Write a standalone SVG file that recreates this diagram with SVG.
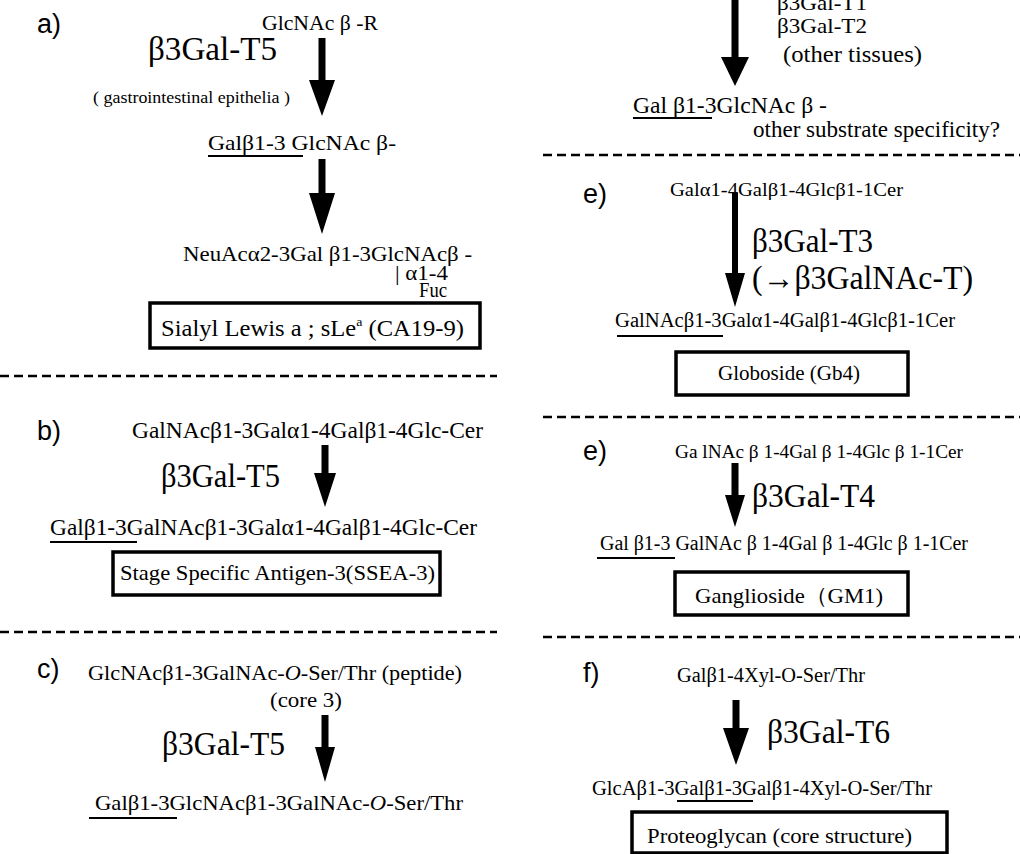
<svg xmlns="http://www.w3.org/2000/svg" width="1020" height="854" viewBox="0 0 1020 854">
<style>
.s{font-family:"Liberation Serif","Times New Roman",serif;fill:#000}
.lab{font-family:"Liberation Sans",Arial,sans-serif;font-size:27px;fill:#000}
.big{font-size:33px}
.box{fill:none;stroke:#000;stroke-width:3.5}
.ul{stroke:#000;stroke-width:2}
.dash{stroke:#000;stroke-width:2.5;stroke-dasharray:9 5}
.arr{fill:#000}
</style>
<rect width="1020" height="854" fill="#fff"/>
<g id="dividers">
<line class="dash" x1="0" y1="376" x2="497" y2="376"/>
<line class="dash" x1="0" y1="632" x2="497" y2="632"/>
<line class="dash" x1="543" y1="155" x2="1020" y2="155"/>
<line class="dash" x1="543" y1="417" x2="1020" y2="417"/>
<line class="dash" x1="543" y1="637" x2="1020" y2="637"/>
</g>
<g id="connectors">
<path class="arr" d="M318.5 38H325.5V80H335L322 116L309 80H318.5Z"/>
<path class="arr" d="M318.5 159H325.5V193H335L322 234L309 193H318.5Z"/>
<path class="arr" d="M321.5 445H328.5V473H336L325 507L314 473H321.5Z"/>
<path class="arr" d="M321.5 715H328.5V747H335L325 782L315 747H321.5Z"/>
<path class="arr" d="M731.5 0H738.5V57H749L735 86L721 57H731.5Z"/>
<path class="arr" d="M732 193H738V273H745L735 307L725 273H732Z"/>
<path class="arr" d="M731.5 463H738.5V495H745L735 527L725 495H731.5Z"/>
<path class="arr" d="M732.5 700H739.5V728H749L736 765L723 728H732.5Z"/>
</g>
<g id="a-section">
<text class="lab" x="37" y="33">a)</text>
<g id="a-substrate"><text class="s" x="262" y="30" font-size="21" textLength="116" lengthAdjust="spacingAndGlyphs">GlcNAc β -R</text></g>
<g id="a-enzyme">
<text class="s big" x="148" y="60" textLength="129" lengthAdjust="spacingAndGlyphs">β3Gal-T5</text>
<text class="s" x="93" y="103" font-size="16" textLength="197" lengthAdjust="spacingAndGlyphs">( gastrointestinal epithelia )</text>
</g>
<g id="a-product">
<text class="s" x="208" y="150" font-size="21" textLength="188" lengthAdjust="spacingAndGlyphs">Galβ1-3 GlcNAc  β-</text>
<line class="ul" x1="208" y1="156" x2="303" y2="156"/>
</g>
<g id="a-sialyl">
<text class="s" x="183" y="261" font-size="22" textLength="289" lengthAdjust="spacingAndGlyphs">NeuAcα2-3Gal β1-3GlcNAcβ -</text>
<text class="s" x="395" y="280" font-size="20" textLength="53" lengthAdjust="spacingAndGlyphs">| α1-4</text>
<text class="s" x="419" y="297" font-size="20" textLength="28" lengthAdjust="spacingAndGlyphs">Fuc</text>
</g>
<g id="a-box">
<rect class="box" x="150" y="303" width="330" height="45"/>
<text class="s" x="161" y="336" font-size="23" textLength="303" lengthAdjust="spacingAndGlyphs">Sialyl  Lewis a ;  sLe<tspan font-size="13" dy="-10">a</tspan><tspan dy="10">  (CA19-9)</tspan></text>
</g>
</g>
<g id="b-section">
<text class="lab" x="37" y="440">b)</text>
<g id="b-substrate"><text class="s" x="132" y="438" font-size="23" textLength="351" lengthAdjust="spacingAndGlyphs">GalNAcβ1-3Galα1-4Galβ1-4Glc-Cer</text></g>
<g id="b-enzyme"><text class="s big" x="161" y="487" textLength="119" lengthAdjust="spacingAndGlyphs">β3Gal-T5</text></g>
<g id="b-product">
<text class="s" x="50" y="535" font-size="23" textLength="427" lengthAdjust="spacingAndGlyphs">Galβ1-3GalNAcβ1-3Galα1-4Galβ1-4Glc-Cer</text>
<line class="ul" x1="50" y1="542" x2="137" y2="542"/>
</g>
<g id="b-box">
<rect class="box" x="113" y="552" width="327" height="43"/>
<text class="s" x="120" y="580" font-size="22" textLength="315" lengthAdjust="spacingAndGlyphs">Stage Specific Antigen-3(SSEA-3)</text>
</g>
</g>
<g id="c-section">
<text class="lab" x="37" y="678">c)</text>
<g id="c-substrate">
<text class="s" x="88" y="680" font-size="22" textLength="374" lengthAdjust="spacingAndGlyphs">GlcNAcβ1-3GalNAc-<tspan font-style="italic">O</tspan>-Ser/Thr (peptide)</text>
<text class="s" x="270" y="707" font-size="22" textLength="72" lengthAdjust="spacingAndGlyphs">(core 3)</text>
</g>
<g id="c-enzyme"><text class="s big" x="162" y="755" textLength="123" lengthAdjust="spacingAndGlyphs">β3Gal-T5</text></g>
<g id="c-product">
<text class="s" x="95" y="810" font-size="22" textLength="368" lengthAdjust="spacingAndGlyphs">Galβ1-3GlcNAcβ1-3GalNAc-<tspan font-style="italic">O</tspan>-Ser/Thr</text>
<line class="ul" x1="89" y1="818" x2="177" y2="818"/>
</g>
</g>
<g id="d-section">
<g id="d-enzyme">
<text class="s" x="777" y="10" font-size="22" textLength="90" lengthAdjust="spacingAndGlyphs">β3Gal-T1</text>
<text class="s" x="777" y="33" font-size="22" textLength="90" lengthAdjust="spacingAndGlyphs">β3Gal-T2</text>
<text class="s" x="783" y="62" font-size="23" textLength="139" lengthAdjust="spacingAndGlyphs">(other tissues)</text>
</g>
<g id="d-product">
<text class="s" x="633" y="113" font-size="23" textLength="194" lengthAdjust="spacingAndGlyphs">Gal β1-3GlcNAc β -</text>
<line class="ul" x1="633" y1="118" x2="712" y2="118"/>
<text class="s" x="753" y="137" font-size="23" textLength="247" lengthAdjust="spacingAndGlyphs">other substrate specificity?</text>
</g>
</g>
<g id="e1-section">
<text class="lab" x="583" y="203">e)</text>
<g id="e1-substrate"><text class="s" x="670" y="196" font-size="19" textLength="233" lengthAdjust="spacingAndGlyphs">Galα1-4Galβ1-4Glcβ1-1Cer</text></g>
<g id="e1-enzyme">
<text class="s big" x="752" y="252" textLength="121" lengthAdjust="spacingAndGlyphs">β3Gal-T3</text>
<text class="s big" x="752" y="289" textLength="221" lengthAdjust="spacingAndGlyphs">(→β3GalNAc-T)</text>
</g>
<g id="e1-product">
<text class="s" x="615" y="327" font-size="20" textLength="340" lengthAdjust="spacingAndGlyphs">GalNAcβ1-3Galα1-4Galβ1-4Glcβ1-1Cer</text>
<line class="ul" x1="617" y1="336" x2="723" y2="336"/>
</g>
<g id="e1-box">
<rect class="box" x="676" y="352" width="232" height="43"/>
<text class="s" x="718" y="380" font-size="21" textLength="142" lengthAdjust="spacingAndGlyphs">Globoside (Gb4)</text>
</g>
</g>
<g id="e2-section">
<text class="lab" x="583" y="460">e)</text>
<g id="e2-substrate"><text class="s" x="675" y="458" font-size="19" textLength="288" lengthAdjust="spacingAndGlyphs">Ga lNAc β 1-4Gal β 1-4Glc β 1-1Cer</text></g>
<g id="e2-enzyme"><text class="s big" x="752" y="507" textLength="123" lengthAdjust="spacingAndGlyphs">β3Gal-T4</text></g>
<g id="e2-product">
<text class="s" x="600" y="550" font-size="20" textLength="368" lengthAdjust="spacingAndGlyphs">Gal β1-3 GalNAc  β 1-4Gal β 1-4Glc β 1-1Cer</text>
<line class="ul" x1="597" y1="558" x2="675" y2="558"/>
</g>
<g id="e2-box">
<rect class="box" x="675" y="572" width="233" height="43"/>
<text class="s" x="695" y="603" font-size="22" textLength="188" lengthAdjust="spacingAndGlyphs">Ganglioside（GM1)</text>
</g>
</g>
<g id="f-section">
<text class="lab" x="583" y="682">f)</text>
<g id="f-substrate"><text class="s" x="677" y="682" font-size="20" textLength="188" lengthAdjust="spacingAndGlyphs">Galβ1-4Xyl-O-Ser/Thr</text></g>
<g id="f-enzyme"><text class="s big" x="767" y="743" textLength="123" lengthAdjust="spacingAndGlyphs">β3Gal-T6</text></g>
<g id="f-product">
<text class="s" x="592" y="795" font-size="20" textLength="340" lengthAdjust="spacingAndGlyphs">GlcAβ1-3Galβ1-3Galβ1-4Xyl-O-Ser/Thr</text>
<line class="ul" x1="677" y1="801" x2="753" y2="801"/>
</g>
<g id="f-box">
<rect class="box" x="632" y="812" width="315" height="41"/>
<text class="s" x="647" y="843" font-size="22" textLength="265" lengthAdjust="spacingAndGlyphs">Proteoglycan (core structure)</text>
</g>
</g>
</svg>
